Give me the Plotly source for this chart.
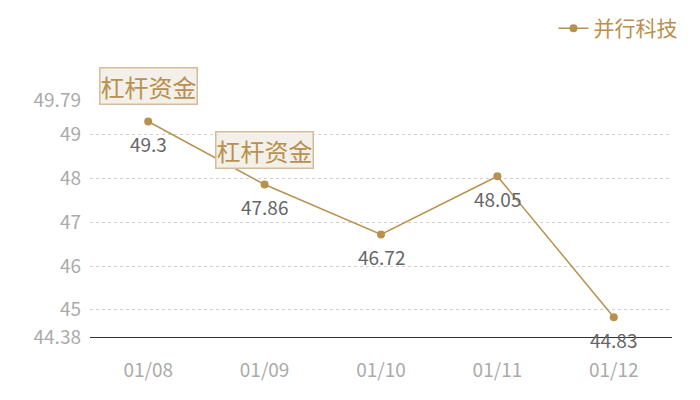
import plotly.graph_objects as go

dates = ['01/08', '01/09', '01/10', '01/11', '01/12']
values = [49.3, 47.86, 46.72, 48.05, 44.83]
series_name = '并行科技'
tick_vals = [44.38, 45, 46, 47, 48, 49, 49.79]
tick_text = ['44.38', '45', '46', '47', '48', '49', '49.79']
notes = [('01/08', 49.3, '杠杆资金'), ('01/09', 47.86, '杠杆资金')]

gold = '#b8914f'
font = 'Noto Sans CJK SC'

fig = go.Figure()
fig.add_trace(go.Scatter(
    x=dates, y=values, name=series_name,
    mode='lines+markers',
    line=dict(color=gold, width=1.5),
    marker=dict(color=gold, size=8),
))

# value labels under each point
for d, v in zip(dates, values):
    fig.add_annotation(
        x=d, y=v, text=str(v), showarrow=False, yshift=-22,
        font=dict(color='#666666', size=19, family=font),
    )

for d, v, t in notes:
    fig.add_annotation(
        x=d, y=v, text=t, showarrow=False, yshift=35,
        font=dict(color=gold, size=24, family=font),
        bgcolor='#f3efe9', bordercolor='#d4bd98', borderwidth=1.5, borderpad=0,
    )

fig.update_layout(
    width=700, height=400,
    margin=dict(l=82, r=36, t=92, b=71, autoexpand=False),
    plot_bgcolor='white', paper_bgcolor='white',
    font=dict(family=font),
    showlegend=True,
    legend=dict(x=1.018, y=1.0, yref='container', xanchor='right', yanchor='top',
                font=dict(color=gold, size=21, family=font), bgcolor='rgba(0,0,0,0)',
                itemwidth=30, borderwidth=0),
    xaxis=dict(
        type='category', showgrid=False, ticks='', automargin=False,
        tickfont=dict(color='#aaaaaa', size=19, family=font),
        showline=True, linecolor='#333333', linewidth=1,
        range=[-0.5, 4.5], ticklabelstandoff=16,
    ),
    yaxis=dict(
        range=[44.38, 49.79], tickvals=tick_vals, ticktext=tick_text,
        tickfont=dict(color='#aaaaaa', size=19, family=font),
        showgrid=True, gridcolor='#d0d0d0', griddash='3px,3px', gridwidth=1,
        zeroline=False, showline=False, ticks='', ticklabelstandoff=8,
        automargin=False,
    ),
)

fig.write_html("out.html")
